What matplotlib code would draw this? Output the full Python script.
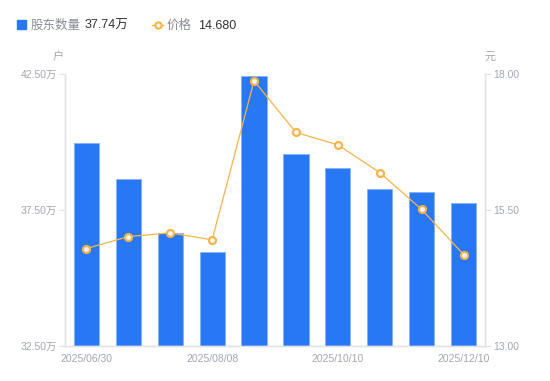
import matplotlib
matplotlib.use("Agg")
import matplotlib.pyplot as plt
from matplotlib.patches import Rectangle
from matplotlib.lines import Line2D

plt.rcParams['font.family'] = ['Liberation Sans', 'Noto Sans CJK SC', 'DejaVu Sans']

dates = ["2025/06/30", "2025/07/10", "2025/07/31", "2025/08/08", "2025/08/29",
         "2025/09/30", "2025/10/10", "2025/10/31", "2025/11/28", "2025/12/10"]
holders = [39.96, 38.64, 36.65, 35.96, 42.45, 39.56, 39.05, 38.27, 38.15, 37.74]  # 万户
price = [14.79, 15.01, 15.08, 14.95, 17.88, 16.93, 16.70, 16.19, 15.51, 14.68]
left_ticks = [32.5, 37.5, 42.5]
right_ticks = [13.0, 15.5, 18.0]
shown_labels = ["2025/06/30", "2025/08/08", "2025/10/10", "2025/12/10"]

BLUE = '#2878F5'
ORANGE = '#F8B449'
GRID = '#E3E3E6'
TICK = '#A3A6B0'

fig = plt.figure(figsize=(5.5, 3.81), dpi=100)
ax = fig.add_axes([0.119, 0.0926, 0.762, 0.7124])
x = list(range(len(dates)))
ax.bar(x, holders, width=0.6, color=BLUE, edgecolor='#86B2F8', linewidth=0.6, zorder=2)
ax.set_xlim(-0.5, len(dates) - 0.5)
ax.set_ylim(left_ticks[0], left_ticks[-1])
ax.set_yticks(left_ticks)
ax.set_yticklabels([f"{v:.2f}万" for v in left_ticks])
ax.set_xticks([dates.index(d) for d in shown_labels])
ax.set_xticklabels(shown_labels)

ax2 = ax.twinx()
ax2.plot(x, price, color=ORANGE, linewidth=0.9, marker='o', markersize=5,
         markerfacecolor='white', markeredgecolor=ORANGE, markeredgewidth=1.6, zorder=3)
ax2.set_ylim(right_ticks[0], right_ticks[-1])
ax2.set_yticks(right_ticks)
ax2.set_yticklabels([f"{v:.2f}" for v in right_ticks])

for a in (ax, ax2):
    a.spines['top'].set_visible(False)
    for s in ('left', 'right', 'bottom'):
        a.spines[s].set_color(GRID)
        a.spines[s].set_linewidth(1.0)
    a.tick_params(colors=TICK, labelsize=7.5, length=4, width=0.8, color=GRID, pad=2)
ax.tick_params(axis='x', length=0, pad=6)
for lab in ax.get_xticklabels():
    lab.set_color(TICK)

fig.text(58 / 550, 1 - 57 / 381, "户", color=TICK, fontsize=8, ha='center', va='center')
fig.text(490 / 550, 1 - 57 / 381, "元", color=TICK, fontsize=8, ha='center', va='center')

# legend
LY = 1 - 26 / 381
fig.add_artist(Rectangle((17 / 550, 1 - 29 / 381), 9 / 550, 9 / 381, transform=fig.transFigure,
                         color=BLUE, zorder=5))
fig.text(31 / 550, LY, "股东数量", color='#8A8D96', fontsize=9, va='center')
fig.text(85 / 550, LY, f"{holders[-1]:.2f}万", color='#333333', fontsize=9, va='center')
fig.add_artist(Line2D([152 / 550, 163 / 550], [1 - 24.5 / 381] * 2, transform=fig.transFigure,
                      color=ORANGE, linewidth=1))
fig.add_artist(Line2D([157.5 / 550], [1 - 24.5 / 381], transform=fig.transFigure,
                      color=ORANGE, marker='o', markersize=4.5, markerfacecolor='white',
                      markeredgewidth=1.5, linestyle='none'))
fig.text(167 / 550, LY, "价格", color='#8A8D96', fontsize=9, va='center')
fig.text(198 / 550, LY, f"{price[-1]:.3f}", color='#333333', fontsize=9, va='center')

fig.savefig("out.png", dpi=100)
